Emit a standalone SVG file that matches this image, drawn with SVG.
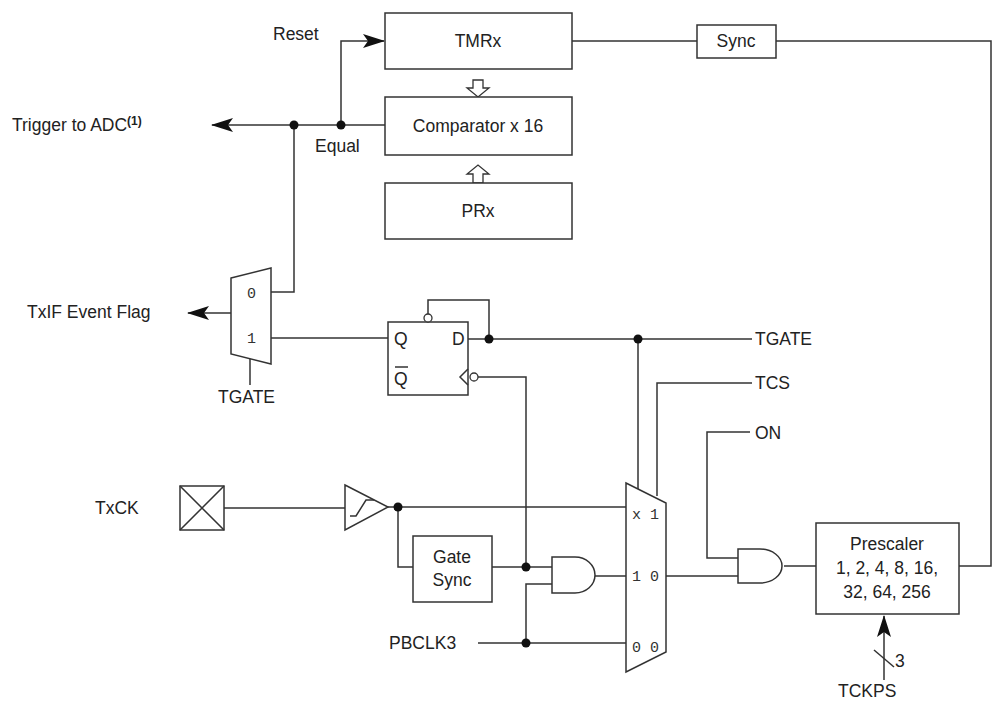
<svg xmlns="http://www.w3.org/2000/svg" width="998" height="707" viewBox="0 0 998 707">
<style>
.b{fill:#fff;stroke:#333;stroke-width:1.5}
.w{fill:none;stroke:#333;stroke-width:1.5}
.t{font-family:"Liberation Sans",Arial,sans-serif;font-size:17.5px;fill:#222}
.m{font-family:"Liberation Mono",monospace;font-size:15px;fill:#333}
.d{fill:#111}
</style>
<defs>
<marker id="a" markerWidth="22" markerHeight="14" refX="21" refY="7" orient="auto" markerUnits="userSpaceOnUse"><path d="M0,0 L22,7 L0,14 L5,7z" fill="#111"/></marker>
</defs>
<rect width="998" height="707" fill="#fff"/>
<g id="connectors">
<path class="w" d="M572,41 H697 M776,41 H991 V566 H959"/>
<path class="w" d="M385,125 H212" marker-end="url(#a)"/>
<path class="w" d="M341,125 V41 H384" marker-end="url(#a)"/>
<path class="w" d="M294,125 V292 H271"/>
<path class="w" d="M231,313 H188" marker-end="url(#a)"/>
<path class="w" d="M250,359 V385"/>
<path class="w" d="M271,338 H388"/>
<path class="w" d="M468,339 H752 M489,339 V300 H428 V314"/>
<path class="w" d="M478,377 H526 V567 M492,567 H552 M552,584 H526 V643 M478,643 H626"/>
<path class="w" d="M638,339 V489 M657,496 V383 H752"/>
<path class="w" d="M224,508 H345 M388,507 H626 M398,507 V567 H413"/>
<path class="w" d="M595,576 H626 M666,576 H738 M750,432 H707 V558 H738 M784,566 H816"/>
<path class="w" d="M884,680 V616" marker-end="url(#a)"/>
<path class="w" d="M874,650 L894,667"/>
<path d="M473,80 V88 H467 L478,97 L489,88 H483 V80z M473,183 V174 H467 L478,165 L489,174 H483 V183z" fill="#fff" stroke="#333" stroke-width="1.3"/>
</g>
<g class="d"><circle cx="341" cy="125" r="4.5"/><circle cx="294" cy="125" r="4.5"/><circle cx="489" cy="339" r="4.5"/><circle cx="638" cy="339" r="4.5"/><circle cx="398" cy="507" r="4.5"/><circle cx="526" cy="567" r="4.5"/><circle cx="526" cy="643" r="4.5"/></g>
<g id="tmr"><rect class="b" x="385" y="13" width="187" height="56"/><text class="t" x="478" y="47" text-anchor="middle">TMRx</text></g>
<g id="comp"><rect class="b" x="385" y="97" width="187" height="58"/><text class="t" x="478" y="132" text-anchor="middle">Comparator x 16</text></g>
<g id="prx"><rect class="b" x="385" y="183" width="187" height="56"/><text class="t" x="478" y="217" text-anchor="middle">PRx</text></g>
<g id="sync"><rect class="b" x="697" y="25" width="79" height="33"/><text class="t" x="736" y="47" text-anchor="middle">Sync</text></g>
<g id="labels">
<text class="t" x="273" y="40">Reset</text>
<text class="t" x="315" y="152">Equal</text>
<text class="t" x="12" y="131">Trigger to ADC<tspan font-size="12" dy="-6" font-weight="bold">(1)</tspan></text>
<text class="t" x="27" y="318">TxIF Event Flag</text>
<text class="t" x="218" y="403">TGATE</text>
<text class="t" x="755" y="345">TGATE</text>
<text class="t" x="755" y="389">TCS</text>
<text class="t" x="755" y="439">ON</text>
<text class="t" x="95" y="514">TxCK</text>
<text class="t" x="389" y="649">PBCLK3</text>
<text class="t" x="838" y="697">TCKPS</text>
<text class="t" x="895" y="667">3</text>
</g>
<g id="mux1"><path class="b" d="M231,278 L271,268 V364 L231,354z"/><text class="m" x="247" y="298">0</text><text class="m" x="247" y="343">1</text></g>
<g id="ff"><rect class="b" x="388" y="322" width="80" height="73"/><text class="t" x="394" y="345" font-size="18">Q</text><text class="t" x="394" y="385" font-size="18">Q</text><path class="w" d="M395,367 H408"/><text class="t" x="452" y="345" font-size="18">D</text><path class="w" d="M468,369 L460,377 L468,385"/><circle cx="474" cy="377" r="4" fill="#fff" stroke="#333" stroke-width="1.3"/><circle cx="428" cy="318" r="4" fill="#fff" stroke="#333" stroke-width="1.3"/></g>
<g id="txck"><rect class="b" x="180" y="486" width="44" height="44"/><path class="w" d="M180,486 L224,530 M224,486 L180,530"/></g>
<g id="buf"><path class="b" d="M345,485 L388,507 L345,530z"/><path class="w" d="M350,516 H356 L366,500 H374"/></g>
<g id="gatesync"><rect class="b" x="413" y="536" width="79" height="66"/><text class="t" x="452" y="563" text-anchor="middle">Gate</text><text class="t" x="452" y="586" text-anchor="middle">Sync</text></g>
<g id="and1"><path class="b" d="M552,557 H575 A20,18 0 0 1 575,593 H552z"/></g>
<g id="mux2"><path class="b" d="M626,483 L666,503 V652 L626,672z"/><text class="m" x="632" y="519">x 1</text><text class="m" x="632" y="581">1 0</text><text class="m" x="632" y="652">0 0</text></g>
<g id="and2"><path class="b" d="M738,549 H760 A22,17 0 0 1 760,583 H738z"/></g>
<g id="presc"><rect class="b" x="816" y="523" width="143" height="91"/><text class="t" x="887" y="550" text-anchor="middle">Prescaler</text><text class="t" x="887" y="574" text-anchor="middle">1, 2, 4, 8, 16,</text><text class="t" x="887" y="598" text-anchor="middle">32, 64, 256</text></g>
</svg>
